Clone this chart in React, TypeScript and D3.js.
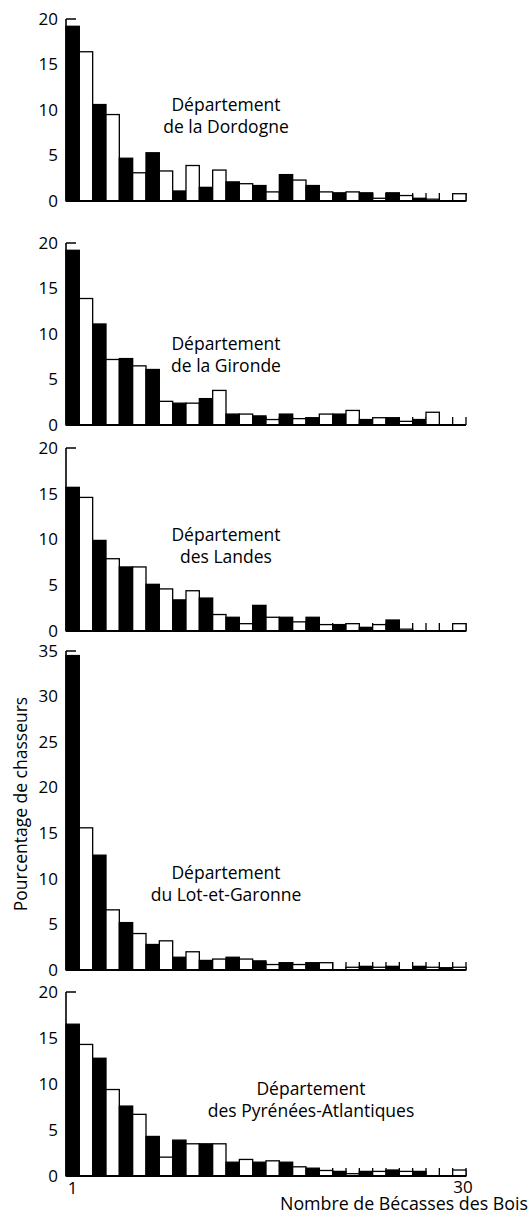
import React from "react";
import * as d3 from "d3";

const categories = [1, 2, 3, 4, 5, 6, 7, 8, 9, 10, 11, 12, 13, 14, 15, 16, 17, 18, 19, 20, 21, 22, 23, 24, 25, 26, 27, 28, 29, 30];

const dordogne = [19.2, 16.4, 10.6, 9.5, 4.7, 3.1, 5.3, 3.3, 1.1, 3.9, 1.5, 3.4, 2.1, 1.9, 1.7, 1.0, 2.9, 2.3, 1.7, 1.0, 0.9, 1.0, 0.9, 0.3, 0.9, 0.6, 0.3, 0.2, 0, 0.8];
const gironde = [19.2, 13.9, 11.1, 7.2, 7.3, 6.5, 6.1, 2.6, 2.4, 2.4, 2.9, 3.8, 1.2, 1.2, 1.0, 0.6, 1.2, 0.7, 0.8, 1.2, 1.2, 1.6, 0.6, 0.8, 0.8, 0.4, 0.6, 1.4, 0, 0];
const landes = [15.7, 14.6, 9.9, 7.9, 7.0, 7.0, 5.1, 4.6, 3.4, 4.4, 3.6, 1.8, 1.5, 0.8, 2.8, 1.5, 1.5, 1.0, 1.5, 0.7, 0.7, 0.8, 0.4, 0.7, 1.2, 0.2, 0, 0, 0, 0.8];
const lotEtGaronne = [34.5, 15.6, 12.6, 6.6, 5.2, 4.0, 2.8, 3.2, 1.4, 2.0, 1.05, 1.2, 1.4, 1.2, 1.0, 0.6, 0.8, 0.6, 0.8, 0.8, 0, 0.3, 0.4, 0.3, 0.4, 0, 0.4, 0.3, 0.25, 0.3];
const pyrenees = [16.5, 14.3, 12.8, 9.4, 7.6, 6.7, 4.3, 2.05, 3.9, 3.5, 3.5, 3.5, 1.5, 1.8, 1.5, 1.65, 1.5, 1.0, 0.85, 0.6, 0.5, 0.25, 0.5, 0.5, 0.65, 0.5, 0.5, 0, 0, 0.65];

const ticks20 = [0, 5, 10, 15, 20];
const ticks35 = [0, 5, 10, 15, 20, 25, 30, 35];

const panelTitles = [
  ["Département", "de la Dordogne"],
  ["Département", "de la Gironde"],
  ["Département", "des Landes"],
  ["Département", "du Lot-et-Garonne"],
  ["Département", "des Pyrénées-Atlantiques"],
];

const xTickLabels = ["1", "30"];
const xAxisTitle = "Nombre de Bécasses des Bois";
const yAxisTitle = "Pourcentage de chasseurs";

const FONT = "'Open Sans', 'Noto Sans', sans-serif";

type Panel = {
  values: number[];
  ticks: number[];
  top: number;
  zero: number;
  labelX: number;
  labelY: number;
};

const panels: Panel[] = [
  { values: dordogne, ticks: ticks20, top: 19, zero: 201, labelX: 226, labelY: 111 },
  { values: gironde, ticks: ticks20, top: 243, zero: 425, labelX: 226, labelY: 350 },
  { values: landes, ticks: ticks20, top: 448, zero: 631, labelX: 226, labelY: 541 },
  { values: lotEtGaronne, ticks: ticks35, top: 651, zero: 970, labelX: 226, labelY: 879 },
  { values: pyrenees, ticks: ticks20, top: 992, zero: 1176, labelX: 311, labelY: 1095 },
];

const X0 = 66;
const X1 = 466;

export default function App() {
  const x = d3.scaleBand<number>().domain(categories).range([X0, X1]).padding(0);
  const bw = x.bandwidth();

  return (
    <svg
      width={532}
      height={1213}
      style={{ position: "absolute", left: 0, top: 0, background: "#fff" }}
      fontFamily={FONT}
    >
      {panels.map((p, pi) => {
        const maxT = p.ticks[p.ticks.length - 1];
        const y = d3.scaleLinear().domain([0, maxT]).range([p.zero, p.top]);
        return (
          <g key={pi}>
            {p.ticks.map((t) => (
              <line key={"yt" + t} x1={X0} x2={X0 + 10} y1={y(t)} y2={y(t)} stroke="#000" strokeWidth={1.5} />
            ))}
            {categories.map((c) => (
              <line
                key={"xt" + c}
                x1={(x(c) as number) + bw}
                x2={(x(c) as number) + bw}
                y1={p.zero}
                y2={p.zero - 8}
                stroke="#000"
                strokeWidth={1.3}
              />
            ))}
            {p.values.map((v, i) =>
              v > 0 ? (
                <rect
                  key={"b" + i}
                  x={x(categories[i]) as number}
                  y={y(v)}
                  width={bw}
                  height={p.zero - y(v)}
                  fill={i % 2 === 0 ? "#000" : "#fff"}
                  stroke="#000"
                  strokeWidth={1.3}
                />
              ) : null
            )}
            <line x1={X0} x2={X0} y1={p.top} y2={p.zero} stroke="#000" strokeWidth={1.6} />
            <line x1={X0} x2={X1} y1={p.zero} y2={p.zero} stroke="#000" strokeWidth={1.8} />
            {p.ticks.map((t) => (
              <text
                key={"yl" + t}
                x={58}
                y={y(t)}
                dy="0.34em"
                textAnchor="end"
                fontSize={17}
                fill="#000"
              >
                {t}
              </text>
            ))}
            <text x={p.labelX} y={p.labelY} textAnchor="middle" fontSize={17.5} fill="#000">
              {panelTitles[pi][0]}
            </text>
            <text x={p.labelX} y={p.labelY + 22} textAnchor="middle" fontSize={17.5} fill="#000">
              {panelTitles[pi][1]}
            </text>
          </g>
        );
      })}
      <text x={(x(1) as number) + bw / 2} y={1194} textAnchor="middle" fontSize={17} fill="#000">
        {xTickLabels[0]}
      </text>
      <text x={463} y={1193} textAnchor="middle" fontSize={17} fill="#000">
        {xTickLabels[1]}
      </text>
      <text x={280} y={1210} textAnchor="start" fontSize={17.3} textLength={248} lengthAdjust="spacingAndGlyphs" fill="#000">
        {xAxisTitle}
      </text>
      <text
        transform={`translate(27,804) rotate(-90)`}
        textAnchor="middle"
        fontSize={17.5}
        fill="#000"
      >
        {yAxisTitle}
      </text>
    </svg>
  );
}
